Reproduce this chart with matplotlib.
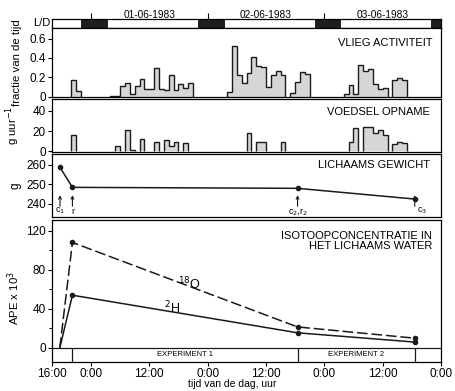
import numpy as np
import matplotlib.pyplot as plt
import matplotlib.transforms as mtransforms

plt.rcParams['font.family'] = ['Liberation Sans', 'DejaVu Sans']

# tijd in uren vanaf 31-05-1983 16:00
nacht_start = [6, 30, 54, 78]
nacht_eind = [11.5, 35.5, 59.5, 80]
datum_tijd = [20, 44, 68]
datum_label = ['01-06-1983', '02-06-1983', '03-06-1983']

# vlieg activiteit, uurwaarden per periode (start uur, waarden)
vlieg_start = [4, 12, 36, 49, 60, 70]
vlieg_1 = [0.17, 0.06]
vlieg_2 = [0.01, 0.01, 0.11, 0.14, 0.03, 0.11, 0.18, 0.08, 0.08, 0.30, 0.08, 0.07, 0.22, 0.07, 0.13, 0.09, 0.14]
vlieg_3 = [0.05, 0.52, 0.22, 0.14, 0.24, 0.41, 0.32, 0.31, 0.10, 0.22, 0.26, 0.22]
vlieg_4 = [0.04, 0.15, 0.25, 0.23]
vlieg_5 = [0.03, 0.12, 0.03, 0.33, 0.26, 0.29, 0.13, 0.08, 0.09]
vlieg_6 = [0.17, 0.19, 0.17]
vlieg = [vlieg_1, vlieg_2, vlieg_3, vlieg_4, vlieg_5, vlieg_6]

# voedsel opname, g per uur
voedsel_start = [4, 13, 15, 18, 21, 23, 27, 40, 42, 47, 61, 64, 70]
voedsel = [[16], [5], [21, 1], [12], [9], [11, 5, 9], [8], [18], [9, 9], [9],
           [9, 23], [24, 24, 18, 21, 16], [7, 9, 8]]

# lichaamsgewicht
tijd_gewicht = [1.65, 4.2, 50.5, 74.6]
gewicht = [258.7, 248.5, 248, 242.5]
monster_label = ['c$_1$', 'r', 'c$_2$,r$_2$', 'c$_3$']

# isotoop concentratie
tijd_iso = [1.6, 4.2, 50.5, 74.6]
o18 = [0, 108, 21.5, 10]
h2 = [0, 54, 15.5, 6]
experiment_grens = [4.2, 50.5, 74.6]

uur_ticks = [0, 8, 20, 32, 44, 56, 68, 80]
uur_labels = ['16:00', '0:00', '12:00', '0:00', '12:00', '0:00', '12:00', '0:00']

fig = plt.figure(figsize=(4.56, 3.91), dpi=100)
L, W = 52 / 456, 389 / 456


def box(top, bottom):
    return [L, 1 - bottom / 391, W, (bottom - top) / 391]


ax_ld = fig.add_axes(box(19, 28))
ax1 = fig.add_axes(box(28, 97))
ax2 = fig.add_axes(box(99, 152))
ax3 = fig.add_axes(box(154, 217))
ax4 = fig.add_axes(box(220, 362))

for ax in [ax_ld, ax1, ax2, ax3, ax4]:
    ax.set_xlim(0, 80)
    for s in ax.spines.values():
        s.set_linewidth(0.9)
    ax.tick_params(labelsize=8.5, length=3, width=0.8, pad=1.5)

# L/D balk
for s, e in zip(nacht_start, nacht_eind):
    ax_ld.axvspan(s, e, color='#1e1e1e', lw=0)
ax_ld.set_yticks([])
ax_ld.xaxis.tick_top()
ax_ld.set_xticks([8, 32, 56])
ax_ld.set_xticklabels([])
ax_ld.tick_params(axis='x', length=4)
ax_ld.text(-0.004, 0.5, 'L/D', transform=ax_ld.transAxes, ha='right', va='center', fontsize=8)
trans = mtransforms.blended_transform_factory(ax_ld.transData, ax_ld.transAxes)
for t, d in zip(datum_tijd, datum_label):
    ax_ld.text(t, 1.5, d, transform=trans, ha='center', va='center', fontsize=7.3)


def histo(ax, starts, reeksen):
    for st, vals in zip(starts, reeksen):
        edges = np.arange(st, st + len(vals) + 1)
        ax.stairs(vals, edges, baseline=0, fill=True, facecolor='#d6d6d6', lw=0)
        ax.stairs(vals, edges, baseline=0, color='#1a1a1a', lw=1.0)


histo(ax1, vlieg_start, vlieg)
ax1.set_ylim(-0.005, 0.71)
ax1.set_yticks([0, 0.2, 0.4, 0.6])
ax1.set_yticklabels(['0', '0.2', '0.4', '0.6'])
ax1.set_xticks([])
ax1.set_ylabel('fractie van de tijd', fontsize=8.2)
ax1.yaxis.set_label_coords(-0.078, 0.5)
ax1.text(0.977, 0.78, 'VLIEG ACTIVITEIT', transform=ax1.transAxes, ha='right', va='center', fontsize=8)

histo(ax2, voedsel_start, voedsel)
ax2.set_ylim(-0.5, 51.5)
ax2.set_yticks([0, 20, 40])
ax2.set_xticks([])
ax2.set_ylabel('g uur$^{-1}$', fontsize=8.2)
ax2.yaxis.set_label_coords(-0.078, 0.5)
ax2.text(0.972, 0.75, 'VOEDSEL OPNAME', transform=ax2.transAxes, ha='right', va='center', fontsize=8)

ax3.plot(tijd_gewicht, gewicht, color='#1a1a1a', lw=1.1, marker='o', ms=3)
ax3.set_ylim(233.3, 265.6)
ax3.set_yticks([240, 250, 260])
ax3.set_xticks([])
ax3.set_ylabel('g', fontsize=8.5)
ax3.yaxis.set_label_coords(-0.078, 0.5)
ax3.text(0.972, 0.825, 'LICHAAMS GEWICHT', transform=ax3.transAxes, ha='right', va='center', fontsize=8)
for t, lab in zip(tijd_gewicht, monster_label):
    ha = 'left' if lab == 'c$_3$' else 'center'
    dx = 0.5 if lab == 'c$_3$' else 0
    ax3.annotate('', xy=(t, 244.5), xytext=(t, 238.8),
                 arrowprops=dict(arrowstyle='->', lw=0.8, color='#1a1a1a', mutation_scale=5,
                                 shrinkA=0, shrinkB=0))
    ax3.text(t + dx, 236.3, lab, ha=ha, va='center', fontsize=6.5)

ax4.plot(tijd_iso, o18, color='#1a1a1a', lw=1.1, ls=(0, (7, 2.5)))
ax4.plot(tijd_iso[1:], o18[1:], 'o', color='#1a1a1a', ms=3)
ax4.plot(tijd_iso, h2, color='#1a1a1a', lw=1.1)
ax4.plot(tijd_iso[1:], h2[1:], 'o', color='#1a1a1a', ms=3)
ax4.text(28.3, 65, '$^{18}$O', ha='center', va='center', fontsize=9)
ax4.text(24.6, 41, '$^{2}$H', ha='center', va='center', fontsize=9)
ax4.text(0.977, 0.852, 'ISOTOOPCONCENTRATIE IN\nHET LICHAAMS WATER', transform=ax4.transAxes,
         ha='right', va='center', fontsize=8, linespacing=1.0)
ax4.set_ylim(-14.4, 131)
ax4.set_yticks([0, 40, 80, 120])
ax4.set_yticks([20, 60, 100], minor=True)
ax4.tick_params(axis='y', which='minor', length=2, width=0.7)
ax4.axhline(0, color='#1a1a1a', lw=0.9)
ax4.vlines(experiment_grens, -14.4, 0, color='#1a1a1a', lw=0.9)
ax4.text((experiment_grens[0] + experiment_grens[1]) / 2, -7.2, 'EXPERIMENT 1', ha='center', va='center', fontsize=5.5)
ax4.text((experiment_grens[1] + experiment_grens[2]) / 2, -7.2, 'EXPERIMENT 2', ha='center', va='center', fontsize=5.5)
ax4.set_xticks(uur_ticks)
ax4.set_xticklabels(uur_labels)
ax4.set_ylabel('APE x 10$^3$', fontsize=8.2)
ax4.yaxis.set_label_coords(-0.078, 0.45)
ax4.set_xlabel('tijd van de dag, uur', fontsize=7.5)
ax4.xaxis.set_label_coords(0.463, -0.12)

fig.savefig('out.png', dpi=100)
